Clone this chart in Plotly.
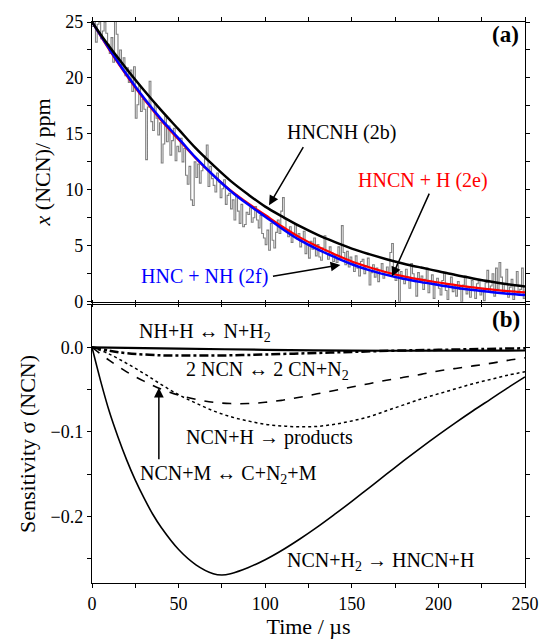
import plotly.graph_objects as go

# ---------------- data ----------------
# experimental NCN trace, 1 µs steps (0..250 µs)
t_exp = list(range(0, 251))
x_exp = [
    24.6, 25.0, 23.2, 24.8, 25.0, 23.5, 24.2, 25.0, 24.0, 23.0,
    22.2, 23.6, 21.4, 25.3, 23.9, 21.6, 22.5, 20.9, 21.8, 20.2,
    20.9, 19.6, 20.7, 18.8, 21.0, 16.4, 17.6, 19.3, 17.0, 18.1,
    17.2, 12.7, 17.4, 19.7, 16.1, 15.3, 17.7, 16.4, 14.9, 16.0,
    12.4, 14.1, 16.6, 14.3, 15.7, 13.1, 14.4, 15.5, 12.6, 13.9,
    13.4, 14.6, 12.5, 13.7, 11.3, 10.5, 12.1, 9.1, 8.6, 12.5,
    11.1, 12.3, 10.6, 11.7, 12.0, 13.0, 14.0, 10.3, 12.1, 11.0,
    10.4, 9.8, 11.5, 10.7, 9.3, 10.1, 10.9, 8.7, 9.5, 9.7,
    8.3, 9.1, 7.3, 9.5, 8.1, 7.0, 8.7, 6.7, 6.9, 8.0,
    7.8, 8.4, 7.1, 7.5, 8.5, 7.3, 6.6, 7.7, 6.1, 5.7,
    5.1, 6.4, 4.6, 7.0, 5.5, 4.8, 6.2, 7.3, 6.1, 8.1,
    9.3, 7.4, 6.3, 5.8, 6.7, 5.3, 6.0, 6.9, 5.6, 6.1,
    4.9, 5.6, 6.3, 4.3, 5.1, 3.9, 5.4, 4.7, 5.7, 4.1,
    5.1, 4.0, 3.7, 4.8, 5.9, 4.3, 3.8, 4.9, 4.4, 3.6,
    4.2, 3.5, 4.9, 3.9, 6.8, 4.4, 3.3, 4.5, 3.1, 4.0,
    3.5, 2.7, 4.1, 3.0, 2.3, 3.6, 3.8, 2.5, 3.2, 3.9,
    1.5, 2.6, 3.3, 2.2, 3.0, 1.8, 2.8, 3.4, 2.1, 2.6,
    3.1, 2.4, 4.4, 5.2, 2.8, 1.9, 3.3, 0.0, 2.7, 2.0,
    1.6, 2.9, 2.2, 1.2, 3.4, 2.5, 1.8, 0.5, 2.6, 1.9,
    2.3, 1.1, 2.0, 3.0, 0.8, 1.7, 2.4, 0.3, 1.5, 2.1,
    1.2, 0.6, 1.9, 2.6, 1.0, 0.2, 1.6, 2.2, 0.9, 1.4,
    0.5, 1.8, 1.1, 0.0, 1.5, 2.3, 0.7, 1.3, 0.4, 1.9,
    1.0, 0.3, 1.6, 2.0, 0.6, 1.2, 0.1, 1.7, 2.8, 0.9,
    1.4, 2.5, 0.5, 3.0, 1.1, 3.5, 2.2, 0.8, 1.6, 2.9,
    0.4, 1.3, 2.0, 0.2, 1.5, 2.7, 0.6, 1.1, 3.0, 0.3,
    1.2,
]

# model curves (every 10 µs)
t_model = [0, 10, 20, 30, 40, 50, 60, 70, 80, 90, 100, 110, 120, 130, 140,
           150, 160, 170, 180, 190, 200, 210, 220, 230, 240, 250]
x_hncnh = [25.0, 22.8, 20.8, 18.9, 17.1, 15.4, 13.7, 12.2, 10.8, 9.6, 8.5,
           7.6, 6.75, 6.0, 5.35, 4.75, 4.25, 3.8, 3.4, 3.05, 2.72,
           2.38, 2.08, 1.8, 1.56, 1.36]
x_hncn_h = [25.0, 22.5, 20.2, 18.1, 16.2, 14.5, 12.8, 11.3, 9.95, 8.8, 7.75,
            6.7, 5.75, 4.95, 4.25, 3.6, 3.08, 2.63, 2.27, 1.97, 1.72,
            1.48, 1.28, 1.1, 0.95, 0.83]
x_hnc_nh = [25.0, 22.6, 20.3, 18.2, 16.3, 14.6, 12.85, 11.3, 9.9, 8.7, 7.6,
            6.5, 5.5, 4.7, 4.0, 3.35, 2.82, 2.4, 2.05, 1.75, 1.5,
            1.25, 1.04, 0.87, 0.72, 0.6]

# sensitivity curves
t_h2 = [0, 5, 10, 15, 20, 25, 30, 35, 40, 50, 60, 70, 75, 80, 90, 100, 110,
        120, 130, 140, 150, 160, 170, 180, 190, 200, 210, 220, 230, 240, 250]
s_h2 = [0.0, -0.040, -0.076, -0.106, -0.133, -0.157, -0.178, -0.197, -0.213,
        -0.239, -0.257, -0.2675, -0.269, -0.2675, -0.2605, -0.251, -0.2395,
        -0.2265, -0.2125, -0.1975, -0.182, -0.166, -0.150, -0.134, -0.1185,
        -0.1035, -0.089, -0.075, -0.0615, -0.048, -0.035]

t_sens = [0, 10, 20, 30, 40, 50, 60, 70, 80, 90, 100, 110, 120, 130, 140,
          150, 160, 170, 180, 190, 200, 210, 220, 230, 240, 250]
s_h = [0.0, -0.008, -0.019, -0.031, -0.044, -0.056, -0.066, -0.075, -0.082,
       -0.087, -0.091, -0.093, -0.094, -0.0935, -0.091, -0.087, -0.082,
       -0.075, -0.068, -0.061, -0.055, -0.049, -0.043, -0.038, -0.033, -0.029]
s_m = [0.0, -0.0155, -0.029, -0.040, -0.0495, -0.0565, -0.0615, -0.065,
       -0.0665, -0.0665, -0.065, -0.0625, -0.059, -0.055, -0.051, -0.047,
       -0.043, -0.039, -0.0355, -0.032, -0.028, -0.025, -0.022, -0.019,
       -0.0155, -0.0125]

t_ncn2 = [0, 10, 20, 40, 60, 80, 100, 125, 150, 175, 200, 225, 250]
s_ncn2 = [0.0, -0.004, -0.007, -0.0095, -0.0098, -0.0095, -0.0085, -0.007,
          -0.0055, -0.004, -0.003, -0.002, -0.0012]

t_nh = [0, 50, 100, 150, 200, 250]
s_nh = [0.0, -0.0015, -0.003, -0.004, -0.004, -0.0038]

# ---------------- figure ----------------
FONT = "Liberation Serif, Times New Roman, Times, serif"
fig = go.Figure()

fig.add_trace(go.Scatter(x=t_exp, y=x_exp, mode="lines", line=dict(color="#808080", width=1.1, shape="hv"),
                         xaxis="x", yaxis="y", showlegend=False))
fig.add_trace(go.Scatter(x=t_model, y=x_hncn_h, mode="lines", line=dict(color="#ff0000", width=2.2, shape="spline"),
                         xaxis="x", yaxis="y", showlegend=False))
fig.add_trace(go.Scatter(x=t_model, y=x_hnc_nh, mode="lines", line=dict(color="#0000ff", width=2.5, shape="spline"),
                         xaxis="x", yaxis="y", showlegend=False))
fig.add_trace(go.Scatter(x=t_model, y=x_hncnh, mode="lines", line=dict(color="#000000", width=2.5, shape="spline"),
                         xaxis="x", yaxis="y", showlegend=False))

fig.add_trace(go.Scatter(x=t_nh, y=s_nh, mode="lines", line=dict(color="black", width=2.2, shape="spline"),
                         xaxis="x2", yaxis="y2", showlegend=False))
fig.add_trace(go.Scatter(x=t_ncn2, y=s_ncn2, mode="lines", line=dict(color="black", width=2.5, dash="dashdot", shape="spline"),
                         xaxis="x2", yaxis="y2", showlegend=False))
fig.add_trace(go.Scatter(x=t_sens, y=s_m, mode="lines", line=dict(color="black", width=1.6, dash="dash", shape="spline"),
                         xaxis="x2", yaxis="y2", showlegend=False))
fig.add_trace(go.Scatter(x=t_sens, y=s_h, mode="lines", line=dict(color="black", width=1.5, dash="dot", shape="spline"),
                         xaxis="x2", yaxis="y2", showlegend=False))
fig.add_trace(go.Scatter(x=t_h2, y=s_h2, mode="lines", line=dict(color="black", width=1.6, shape="spline"),
                         xaxis="x2", yaxis="y2", showlegend=False))

axis_common = dict(showline=True, linecolor="black", linewidth=1.3, mirror="allticks",
                   ticks="outside", ticklen=4, tickwidth=1.2, tickcolor="black",
                   showgrid=False, zeroline=False,
                   tickfont=dict(family=FONT, size=18, color="black"))

fig.update_layout(
    width=551, height=643,
    margin=dict(l=92, r=18, t=20, b=56),
    paper_bgcolor="white", plot_bgcolor="white",
    font=dict(family=FONT, color="black"),
    xaxis=dict(domain=[0, 1], anchor="y", range=[0, 250], dtick=50, showticklabels=False,
               minor=dict(dtick=25, ticklen=4, tickcolor="black", ticks="outside"), **axis_common),
    yaxis=dict(domain=[0.5014, 1], anchor="x", range=[0, 25], dtick=5,
               minor=dict(dtick=2.5, ticklen=4, tickcolor="black", ticks="outside"),
               title=dict(text="<i>x</i> (NCN)/ ppm", font=dict(family=FONT, size=22), standoff=8),
               **axis_common),
    xaxis2=dict(domain=[0, 1], anchor="y2", range=[0, 250], dtick=50,
                minor=dict(dtick=25, ticklen=4, tickcolor="black", ticks="outside"),
                title=dict(text="Time / µs", font=dict(family=FONT, size=22), standoff=2),
                **axis_common),
    yaxis2=dict(domain=[0, 0.4956], anchor="x2", range=[-0.2785, 0.05], dtick=0.1,
                tickformat=".1f",
                minor=dict(dtick=0.05, ticklen=4, tickcolor="black", ticks="outside"),
                title=dict(text="Sensitivity σ (NCN)", font=dict(family=FONT, size=22), standoff=8),
                **axis_common),
)

def txt(x, y, s, xref, yref, color="black", size=20, bold=False):
    if bold:
        s = "<b>" + s + "</b>"
    fig.add_annotation(x=x, y=y, xref=xref, yref=yref, text=s, showarrow=False,
                       font=dict(family=FONT, size=size, color=color))

def arrow(x, y, ax, ay, xref, yref):
    fig.add_annotation(x=x, y=y, ax=ax, ay=ay, xref=xref, yref=yref, axref=xref, ayref=yref,
                       text="", showarrow=True, arrowhead=2, arrowsize=1.3, arrowwidth=1.5,
                       arrowcolor="black", standoff=0, startstandoff=0,
                       font=dict(family=FONT, size=12))

# panel (a)
txt(238.9, 23.87, "(a)", "x", "y", size=23, bold=True)
txt(144, 15.14, "HNCNH (2b)", "x", "y")
txt(191.1, 10.84, "HNCN + H (2e)", "x", "y", color="#ff0000")
txt(64.8, 2.25, "HNC + NH (2f)", "x", "y", color="#0000ff")
arrow(102.2, 8.62, 122.5, 13.95, "x", "y")
arrow(173.2, 2.25, 195.1, 9.8, "x", "y")
arrow(143.4, 3.29, 103.6, 2.25, "x", "y")

# panel (b)
txt(238.9, 0.0325, "(b)", "x2", "y2", size=23, bold=True)
txt(65.2, 0.0170, "NH+H ↔ N+H<sub>2</sub>", "x2", "y2")
txt(101.6, -0.0275, "2 NCN ↔ 2 CN+N<sub>2</sub>", "x2", "y2")
txt(102.6, -0.1067, "NCN+H → products", "x2", "y2")
txt(78.8, -0.1505, "NCN+M ↔ C+N<sub>2</sub>+M", "x2", "y2")
txt(166.7, -0.2535, "NCN+H<sub>2</sub> → HNCN+H", "x2", "y2")
arrow(38.6, -0.0478, 38.6, -0.134, "x2", "y2")

fig.write_html(
    "out.html",
    config={"displayModeBar": False},
    post_script="document.body.style.margin='0';document.body.style.overflow='hidden';",
)
